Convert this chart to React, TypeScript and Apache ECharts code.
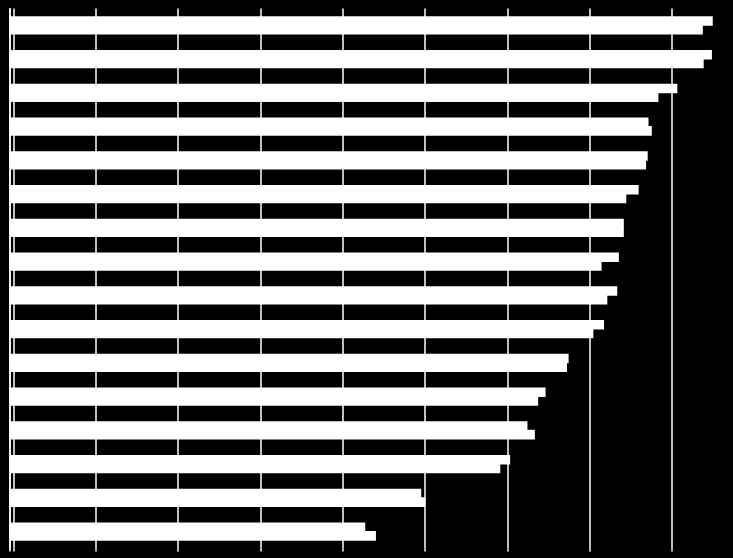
import { useEffect, useRef } from 'react'
import * as echarts from 'echarts'

// 16 rows, top to bottom
const categories = [
  'R1', 'R2', 'R3', 'R4', 'R5', 'R6', 'R7', 'R8',
  'R9', 'R10', 'R11', 'R12', 'R13', 'R14', 'R15', 'R16',
]

// upper bar of each pair
const seriesA = [
  85.4, 85.3, 81.1, 77.6, 77.5, 76.4, 74.6, 74.0,
  73.8, 72.2, 67.9, 65.1, 62.9, 60.8, 50.0, 43.2,
]

// lower bar of each pair
const seriesB = [
  84.2, 84.3, 78.8, 78.0, 77.3, 74.9, 74.6, 71.9,
  72.6, 70.9, 67.7, 64.2, 63.8, 59.6, 50.5, 44.5,
]

// gridlines sit a little to the right of the bar base
const gridShift = 0.46
const valueMax = 87.86
const tickValues = [-gridShift, 0, 10, 20, 30, 40, 50, 60, 70, 80]

export default function App() {
  const chartRef = useRef<HTMLDivElement>(null)

  useEffect(() => {
    if (!chartRef.current) return
    const chart = echarts.init(chartRef.current, null, { renderer: 'svg' })

    chart.setOption({
      animation: false,
      backgroundColor: '#000',
      grid: { left: 9.5, right: 0, top: 8.4, bottom: 9.6 },
      yAxis: {
        type: 'category',
        data: categories,
        inverse: true,
        axisLine: { show: true, lineStyle: { color: '#fff', width: 1.5 } },
        axisTick: { show: false },
        axisLabel: { show: false },
      },
      xAxis: [
        {
          type: 'value',
          min: 0,
          max: valueMax,
          show: false,
          splitLine: { show: false },
        },
        {
          type: 'value',
          position: 'bottom',
          min: -gridShift,
          max: valueMax - gridShift,
          minInterval: 10,
          maxInterval: 10,
          axisLine: { show: false },
          axisTick: {
            show: true,
            length: 3,
            customValues: tickValues,
            lineStyle: { color: '#fff', width: 1.5 },
          },
          axisLabel: { show: false },
          splitLine: {
            show: true,
            lineStyle: { color: '#fff', width: 1.5 },
          },
        },
      ],
      series: [
        {
          type: 'bar',
          data: seriesA,
          xAxisIndex: 0,
          barWidth: 9.6,
          barGap: '-10%',
          itemStyle: { color: '#fff' },
        },
        {
          type: 'bar',
          data: seriesB,
          xAxisIndex: 0,
          barWidth: 9.6,
          barGap: '-10%',
          itemStyle: { color: '#fff' },
        },
      ],
    })

    return () => {
      chart.dispose()
    }
  }, [])

  return (
    <div
      ref={chartRef}
      style={{ position: 'fixed', left: 0, top: 0, width: '733px', height: '558px' }}
    />
  )
}
